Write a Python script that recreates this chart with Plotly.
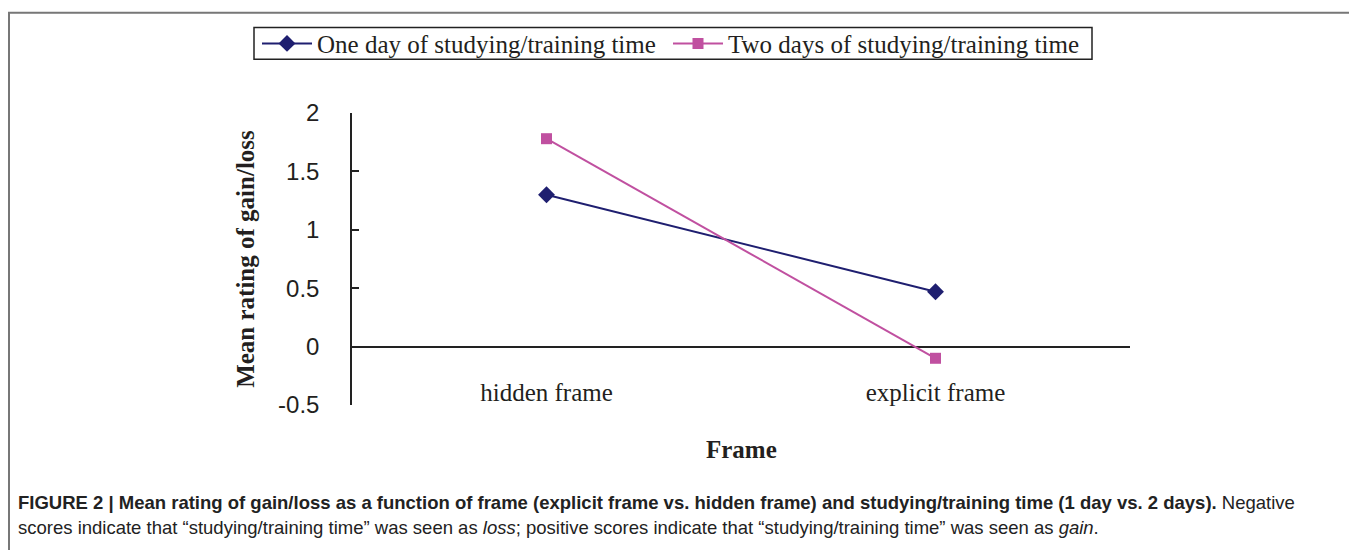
import plotly.graph_objects as go

categories = ["hidden frame", "explicit frame"]
one_day = [1.30, 0.47]
two_days = [1.78, -0.10]
series_names = ["One day of studying/training time", "Two days of studying/training time"]
y_ticks = [-0.5, 0, 0.5, 1, 1.5, 2]
y_ticklabels = ["-0.5", "0", "0.5", "1", "1.5", "2"]

O = 8  # page body margin offset
W, H = 1357 - O, 550 - O
L, R, T, B = 352 - O, 1130 - O, 111 - O, 405 - O
pw, ph = R - L, B - T

def px(x):
    return (x - O - L) / pw

def py(y):
    return (B - (y - O)) / ph

serif = "Liberation Serif, Times New Roman, serif"
sans = "Liberation Sans, Arial, sans-serif"
txt = "#231f20"

fig = go.Figure()
fig.add_trace(go.Scatter(
    x=categories, y=one_day, name=series_names[0], mode="lines+markers",
    line=dict(color="#1f1f70", width=2),
    marker=dict(symbol="diamond", size=13, color="#1f1f70"),
    legend="legend",
))
fig.add_trace(go.Scatter(
    x=categories, y=two_days, name=series_names[1], mode="lines+markers",
    line=dict(color="#c050a0", width=2),
    marker=dict(symbol="square", size=11, color="#c050a0"),
    legend="legend2",
))

leg_common = dict(
    orientation="h", xanchor="left", yanchor="top",
    borderwidth=0, bgcolor="rgba(0,0,0,0)",
    font=dict(family=serif, size=25, color=txt),
    itemwidth=50,
)

fig.update_layout(
    width=W, height=H,
    margin=dict(l=L, r=W - R, t=T, b=H - B, pad=0),
    paper_bgcolor="white", plot_bgcolor="white",
    showlegend=True,
    legend=dict(x=px(257), y=py(18), **leg_common),
    legend2=dict(x=px(668), y=py(18), **leg_common),
    xaxis=dict(
        type="category", range=[-0.5, 1.5],
        showgrid=False, zeroline=False, showline=False,
        anchor="free", position=0.2,
        ticks="", ticklabelstandoff=28,
        tickfont=dict(family=serif, size=25, color=txt),
        fixedrange=True,
    ),
    yaxis=dict(
        range=[-0.5, 2], tickvals=y_ticks, ticktext=y_ticklabels,
        showgrid=False, zeroline=True, zerolinecolor="#222", zerolinewidth=1.5,
        showline=True, linecolor="#222", linewidth=1.5,
        ticks="inside", ticklen=7, tickcolor="#222", tickwidth=1.5,
        ticklabelstandoff=26,
        tickfont=dict(family=sans, size=24, color=txt),
        title=dict(text="<b>Mean rating of gain/loss</b>", font=dict(family=serif, size=25, color=txt), standoff=16),
        fixedrange=True,
    ),
)

fig.add_annotation(
    text="<b>Frame</b>", xref="paper", yref="paper", x=0.5, y=py(450),
    xanchor="center", yanchor="middle", showarrow=False,
    font=dict(family=serif, size=25, color=txt),
)

# caption
cap1 = ("<b>FIGURE 2 | Mean rating of gain/loss as a function of frame (explicit frame vs. hidden frame) "
        "and studying/training time (1 day vs. 2 days).</b> Negative")
cap2 = ("scores indicate that \u201cstudying/training time\u201d was seen as <i>loss</i>; positive scores "
        "indicate that \u201cstudying/training time\u201d was seen as <i>gain</i>.")
fig.add_annotation(text=cap1, xref="paper", yref="paper", x=px(16), y=py(503),
                   xanchor="left", yanchor="middle", showarrow=False,
                   font=dict(family=sans, size=18.5, color="#222"))
fig.add_annotation(text=cap2, xref="paper", yref="paper", x=px(16), y=py(528),
                   xanchor="left", yanchor="middle", showarrow=False,
                   font=dict(family=sans, size=18.5, color="#222"))

# legend frame
fig.add_shape(type="rect", xref="paper", yref="paper",
              x0=px(254), x1=px(1092), y0=py(57), y1=py(25),
              line=dict(color="#222", width=1.5), fillcolor="rgba(0,0,0,0)", layer="below")

# outer frame
fig.add_shape(type="rect", xref="paper", yref="paper",
              x0=px(9), x1=px(1355), y0=py(600), y1=py(10),
              line=dict(color="#777", width=2), fillcolor="rgba(0,0,0,0)", layer="below")

fig.write_html("out.html")
